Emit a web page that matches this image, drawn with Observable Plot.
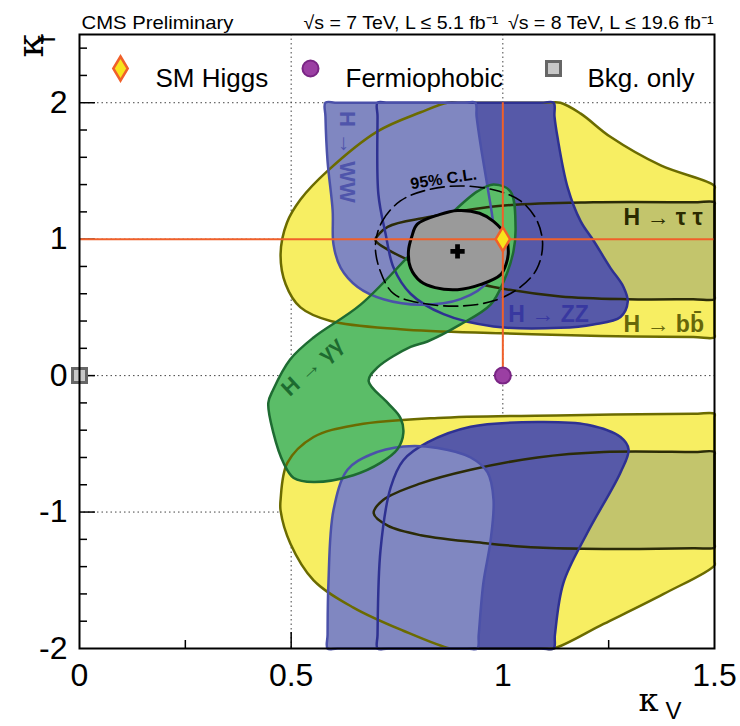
<!DOCTYPE html>
<html><head><meta charset="utf-8">
<script src="https://cdn.jsdelivr.net/npm/d3@7"></script>
<script src="https://cdn.jsdelivr.net/npm/@observablehq/plot@0.6"></script>
<style>body{margin:0;background:#fff}#chart svg{display:block}</style>
</head><body><div id="chart"></div>
<script>
// ---------- axis / tick values ----------
const xDomain = [0, 1.5];
const yDomain = [-2, 2.5];
const xTickLabels = [0, 0.5, 1, 1.5];
const yTickLabels = [-2, -1, 0, 1, 2];
const xMajorTicks = [0.5, 1];
const xMinorTicks = [0.25, 0.75, 1.25];
const yMajorTicks = [-1, 0, 1, 2];
const yMinorTicks = [-1.8,-1.6,-1.4,-1.2,-0.8,-0.6,-0.4,-0.2,0.2,0.4,0.6,0.8,1.2,1.4,1.6,1.8,2.2,2.4];
const gridX = [0.5, 1];
const gridY = [-1, 0, 1, 2];

// ---------- 68% CL contours (kV, kf) ----------
const bbUpper = [[0.475,0.89],[0.49,1.12],[0.522,1.29],[0.586,1.50],[0.704,1.79],[0.806,1.93],[0.869,2.0],[0.9,2.0],[1.1,2.0],[1.136,2.0],[1.184,1.92],[1.254,1.75],[1.373,1.54],[1.5,1.39],[1.5,1.36],[1.5,0.31],[1.5,0.28],[1.45,0.283],[1.231,0.29],[0.995,0.31],[0.758,0.34],[0.593,0.40],[0.522,0.50],[0.487,0.67]];
const bbLower = [[0.475,-0.91],[0.491,-0.64],[0.553,-0.45],[0.657,-0.36],[0.846,-0.31],[1.16,-0.29],[1.45,-0.28],[1.5,-0.28],[1.5,-0.31],[1.5,-1.36],[1.5,-1.39],[1.38,-1.60],[1.238,-1.82],[1.12,-2.0],[1.09,-2.0],[0.9,-2.0],[0.876,-2.0],[0.765,-1.87],[0.647,-1.70],[0.553,-1.50],[0.498,-1.23],[0.475,-0.99]];
const tautauUpper = [[0.699,1.0],[0.728,1.09],[0.822,1.16],[0.978,1.24],[1.214,1.27],[1.45,1.27],[1.5,1.27],[1.5,1.24],[1.5,0.59],[1.5,0.56],[1.45,0.56],[1.295,0.56],[1.136,0.58],[0.978,0.65],[0.9,0.71],[0.822,0.79],[0.742,0.90],[0.70,0.985]];
const tautauLower = [[0.695,-1.01],[0.718,-0.91],[0.806,-0.79],[0.924,-0.69],[1.082,-0.60],[1.238,-0.56],[1.45,-0.56],[1.5,-0.56],[1.5,-0.59],[1.5,-1.23],[1.5,-1.26],[1.45,-1.265],[1.238,-1.27],[1.082,-1.26],[0.964,-1.23],[0.806,-1.17],[0.728,-1.10]];
const zzUpper = [[0.704,1.9],[0.704,2.0],[0.73,2.0],[1.09,2.0],[1.12,2.0],[1.122,1.9],[1.129,1.75],[1.153,1.38],[1.184,1.13],[1.214,0.99],[1.254,0.79],[1.285,0.65],[1.295,0.54],[1.278,0.43],[1.214,0.375],[1.136,0.35],[0.978,0.36],[0.86,0.45],[0.782,0.60],[0.742,0.79],[0.723,1.04],[0.706,1.33]];
const zzLower = [[0.704,-1.9],[0.704,-2.0],[0.73,-2.0],[1.09,-2.0],[1.12,-2.0],[1.123,-1.9],[1.143,-1.52],[1.2,-1.15],[1.278,-0.71],[1.297,-0.54],[1.278,-0.45],[1.2,-0.36],[1.082,-0.34],[0.924,-0.375],[0.822,-0.49],[0.765,-0.62],[0.735,-0.82],[0.711,-1.28]];
const wwUpper = [[0.581,1.9],[0.581,2.0],[0.61,2.0],[0.91,2.0],[0.935,2.0],[0.938,1.9],[0.947,1.70],[0.964,1.38],[0.978,1.09],[0.978,0.89],[0.964,0.69],[0.9,0.56],[0.806,0.52],[0.718,0.56],[0.657,0.65],[0.617,0.79],[0.6,0.96],[0.598,1.21],[0.586,1.57]];
const wwLower = [[0.586,-1.9],[0.586,-2.0],[0.61,-2.0],[0.915,-2.0],[0.94,-2.0],[0.943,-1.9],[0.954,-1.52],[0.971,-1.21],[0.978,-0.91],[0.964,-0.71],[0.924,-0.60],[0.846,-0.53],[0.765,-0.52],[0.687,-0.58],[0.633,-0.69],[0.6,-0.985],[0.588,-1.52]];
const gammagamma = [[0.978,1.40],[1.018,1.35],[1.03,1.09],[1.025,0.91],[1.002,0.69],[0.971,0.52],[0.9,0.375],[0.822,0.25],[0.782,0.21],[0.704,0.06],[0.683,-0.04],[0.728,-0.20],[0.758,-0.31],[0.765,-0.42],[0.751,-0.54],[0.711,-0.64],[0.647,-0.73],[0.553,-0.78],[0.506,-0.75],[0.482,-0.64],[0.458,-0.42],[0.446,-0.20],[0.458,-0.10],[0.498,0.12],[0.553,0.28],[0.664,0.52],[0.782,0.89],[0.869,1.16],[0.94,1.35]];
const combined68 = [[0.777,0.91],[0.785,1.02],[0.798,1.11],[0.85,1.18],[0.893,1.21],[0.945,1.19],[0.978,1.13],[1.006,1.03],[1.013,0.91],[1.008,0.82],[0.995,0.74],[0.95,0.67],[0.893,0.63],[0.84,0.645],[0.806,0.69],[0.782,0.79]];
const combined95 = [[0.699,0.96],[0.715,1.13],[0.758,1.28],[0.82,1.36],[0.9,1.39],[0.98,1.36],[1.042,1.28],[1.08,1.14],[1.094,0.96],[1.08,0.78],[1.042,0.65],[0.98,0.55],[0.9,0.51],[0.81,0.53],[0.742,0.60],[0.71,0.77]];

// ---------- points ----------
const bestFit = [{kV: 0.893, kf: 0.91}];
const smHiggs = [{kV: 1, kf: 1}];
const fermiophobic = [{kV: 1, kf: 0}];
const bkgOnly = [{kV: 0, kf: 0}];
const smLineKf = [1];
const smLineKV = [{kV: 1, from: 0, to: 2}];

// ---------- annotation labels ----------
const channelLabels = [
  {kV: 0.631, kf: 1.603, text: "H → WW", rotate: 90, anchor: "middle", color: "#4f55ab", size: 22},
  {kV: 0.86, kf: 1.44, text: "95% C.L.", rotate: -8.5, anchor: "middle", color: "#000000", size: 16},
  {kV: 1.013, kf: 0.45, text: "H → ZZ", rotate: 0, anchor: "start", color: "#3838a0", size: 23},
  {kV: 1.285, kf: 1.16, text: "H → τ τ", rotate: 0, anchor: "start", color: "#2a2a00", size: 23},
  {kV: 1.285, kf: 0.375, text: "H → bb\u0304", rotate: 0, anchor: "start", color: "#66660a", size: 23},
  {kV: 0.55, kf: 0.066, text: "H → γγ", rotate: -43, anchor: "middle", color: "#1d6b30", size: 22}
];
const legendLabels = ["SM Higgs", "Fermiophobic", "Bkg. only"];
const headerLeft = "CMS Preliminary";
const headerRight = "√s = 7 TeV, L ≤ 5.1 fb⁻¹\u2002√s = 8 TeV, L ≤ 19.6 fb⁻¹";

// ---------- styles ----------
const C = {
  yellow: "#f7ee62", yellowLine: "#6b6b00",
  tt: "#c3c56c", ttLine: "#2b2b08",
  zz: "#5659a8", zzLine: "#2e3192",
  ww: "#8087c1", wwLine: "#4b51a9",
  gg: "#5bbd68", ggLine: "#1e6b32",
  comb: "#9a9a9a", orange: "#f0602a"
};
const tallDiamond = {draw(ctx, size) {const r = Math.sqrt(size / Math.PI); ctx.moveTo(0, -1.5 * r); ctx.lineTo(0.9 * r, 0); ctx.lineTo(0, 1.5 * r); ctx.lineTo(-0.9 * r, 0); ctx.closePath();}};
const squareSym = {draw(ctx, size) {const r = Math.sqrt(size / Math.PI); ctx.rect(-r, -r, 2 * r, 2 * r);}};

const FW = 635, FH = 614; // frame size in px
const px = d => d[0], py = d => d[1];
const fillOf = (pts, color) => Plot.line(pts, {x: px, y: py, curve: "catmull-rom-closed", fill: color, stroke: "none"});
const lineOf = (pts, color, w = 2.5, dash = null) => Plot.line(pts, {x: px, y: py, curve: "catmull-rom-closed", stroke: color, strokeWidth: w, strokeDasharray: dash});
const greekFont = "DejaVu Serif, Liberation Serif, serif";

const marks = [
  Plot.ruleX(gridX, {x: d => d, stroke: "#444", strokeWidth: 1, strokeDasharray: "1.5,3"}),
  Plot.ruleY(gridY, {y: d => d, stroke: "#444", strokeWidth: 1, strokeDasharray: "1.5,3"}),
  Plot.tickX(xMinorTicks, {x: d => d, insetTop: FH - 8, stroke: "#000", strokeWidth: 1.5}),
  Plot.tickX(xMajorTicks, {x: d => d, insetTop: FH - 16, stroke: "#000", strokeWidth: 1.5}),
  Plot.tickY(yMinorTicks, {y: d => d, insetRight: FW - 8, stroke: "#000", strokeWidth: 1.5}),
  Plot.tickY(yMajorTicks, {y: d => d, insetRight: FW - 16, stroke: "#000", strokeWidth: 1.5}),
  fillOf(bbUpper, C.yellow), fillOf(bbLower, C.yellow),
  fillOf(tautauUpper, C.tt), fillOf(tautauLower, C.tt),
  fillOf(zzUpper, C.zz), fillOf(zzLower, C.zz),
  fillOf(wwUpper, C.ww), fillOf(wwLower, C.ww),
  fillOf(gammagamma, C.gg),
  lineOf(bbUpper, C.yellowLine), lineOf(bbLower, C.yellowLine),
  lineOf(tautauUpper, C.ttLine), lineOf(tautauLower, C.ttLine),
  lineOf(zzUpper, C.zzLine), lineOf(zzLower, C.zzLine),
  lineOf(wwUpper, C.wwLine), lineOf(wwLower, C.wwLine),
  lineOf(gammagamma, C.ggLine),
  fillOf(combined68, C.comb),
  lineOf(combined68, "#000", 3),
  lineOf(combined95, "#000", 1.6, "14,6"),
  Plot.ruleY(smLineKf, {y: d => d, stroke: C.orange, strokeWidth: 2}),
  Plot.ruleX(smLineKV, {x: "kV", y1: "from", y2: "to", stroke: C.orange, strokeWidth: 2}),
  Plot.dot(bestFit, {x: "kV", y: "kf", symbol: "cross", r: 6, fill: "#000", stroke: "none"}),
  Plot.dot(smHiggs, {x: "kV", y: "kf", symbol: tallDiamond, r: 8, fill: "#f8e41c", stroke: C.orange, strokeWidth: 2.5}),
  Plot.dot(fermiophobic, {x: "kV", y: "kf", r: 8, fill: "#9b3fa3", stroke: "#7a2585", strokeWidth: 2}),
  Plot.dot(bkgOnly, {x: "kV", y: "kf", symbol: squareSym, r: 7, fill: "#c8c8c8", stroke: "#666", strokeWidth: 3}),
  // channel labels
  ...channelLabels.map(l => Plot.text([l], {x: "kV", y: "kf", text: "text", rotate: l.rotate, textAnchor: l.anchor, fill: l.color, fontSize: l.size, fontWeight: "bold"})),
  // legend
  Plot.dot([0], {frameAnchor: "top-left", dx: 41, dy: 34, symbol: tallDiamond, r: 8, fill: "#f8e41c", stroke: C.orange, strokeWidth: 2.5}),
  Plot.dot([0], {frameAnchor: "top-left", dx: 231, dy: 34, r: 8, fill: "#9b3fa3", stroke: "#7a2585", strokeWidth: 2}),
  Plot.dot([0], {frameAnchor: "top-left", dx: 474, dy: 34, symbol: squareSym, r: 7, fill: "#c8c8c8", stroke: "#666", strokeWidth: 3}),
  Plot.text([legendLabels[0]], {frameAnchor: "top-left", dx: 76, dy: 34, text: d => d, textAnchor: "start", fontSize: 26, fill: "#000"}),
  Plot.text([legendLabels[1]], {frameAnchor: "top-left", dx: 266, dy: 34, text: d => d, textAnchor: "start", fontSize: 26, fill: "#000"}),
  Plot.text([legendLabels[2]], {frameAnchor: "top-left", dx: 508, dy: 34, text: d => d, textAnchor: "start", fontSize: 26, fill: "#000"}),
  // header
  Plot.text([headerLeft], {frameAnchor: "top-left", dx: 2, dy: -19, text: d => d, textAnchor: "start", fontSize: 19, fill: "#000"}),
  Plot.text([headerRight], {frameAnchor: "top-right", dx: -1, dy: -19, text: d => d, textAnchor: "end", fontSize: 19, fill: "#000"}),
  // axis titles
  Plot.text(["κ"], {frameAnchor: "top-left", dx: -63, dy: 23, rotate: -90, text: d => d, fontSize: 38, fontFamily: greekFont, fill: "#000"}),
  Plot.text(["f"], {frameAnchor: "top-left", dx: -42, dy: 8, rotate: -90, text: d => d, fontSize: 24, fill: "#000"}),
  Plot.text(["κ"], {frameAnchor: "bottom-right", dx: -56, dy: 62, text: d => d, fontSize: 32, fontFamily: greekFont, fill: "#000"}),
  Plot.text(["V"], {frameAnchor: "bottom-right", dx: -33, dy: 70, text: d => d, fontSize: 24, fill: "#000"}),
  Plot.frame({stroke: "#000", strokeWidth: 2}),
  Plot.axisX({ticks: xTickLabels, tickSize: 0, tickPadding: 15, fontSize: 32, tickFormat: d => String(d), label: null}),
  Plot.axisY({ticks: yTickLabels, tickSize: 0, tickPadding: 12, fontSize: 32, tickFormat: d => String(d), label: null})
];

const plot = Plot.plot({
  width: 740, height: 726,
  marginLeft: 79, marginRight: 26, marginTop: 34, marginBottom: 78,
  x: {domain: xDomain}, y: {domain: yDomain},
  style: {fontFamily: "Liberation Sans, Arial, sans-serif", background: "#fff", overflow: "visible"},
  marks
});
d3.select(plot).selectAll("text").each(function() {
  if (this.textContent === headerLeft) { this.setAttribute("textLength", 152); this.setAttribute("lengthAdjust", "spacingAndGlyphs"); }
  if (this.textContent === headerRight) { this.setAttribute("textLength", 410); this.setAttribute("lengthAdjust", "spacingAndGlyphs"); }
});
document.getElementById("chart").appendChild(plot);
</script>
</body></html>
